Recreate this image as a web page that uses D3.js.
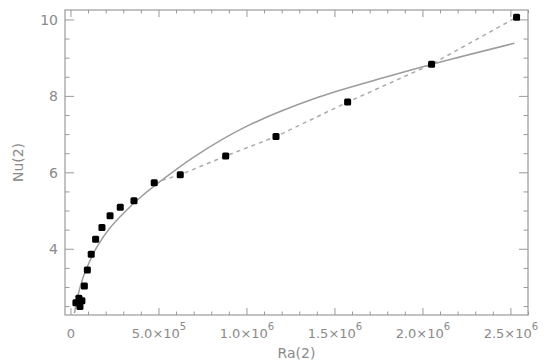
<!DOCTYPE html>
<html>
<head>
<meta charset="utf-8">
<script src="https://cdn.jsdelivr.net/npm/d3@7"></script>
<style>
  html, body { margin: 0; padding: 0; background: #fff; }
  svg { display: block; }
  text { font-family: "DejaVu Sans", "Liberation Sans", sans-serif; fill: #8a8a8a; }
</style>
</head>
<body>
<svg id="chart" width="550" height="362"></svg>
<script>
// ---- data ----
const raPoints = [28000, 45000, 51000, 62000, 76000, 93000, 115000, 140000, 176000, 222000, 280000, 358000,
                  473000, 621000, 879000, 1165000, 1572000, 2049000, 2532000];
const nuPoints = [2.60, 2.72, 2.50, 2.65, 3.04, 3.46, 3.87, 4.26, 4.57, 4.88, 5.10, 5.27,
                  5.74, 5.95, 6.44, 6.95, 7.85, 8.84, 10.07];
// dashed connecting line starts at this point index
const dashedFrom = 12;
// fitted curve (solid)
const raFit = [20000, 40000, 70000, 100000, 150000, 220000, 300000, 400000, 500000, 700000, 1000000, 1400000, 1800000, 2100000, 2520000];
const nuFit = [2.33, 2.80, 3.28, 3.62, 4.08, 4.55, 4.95, 5.38, 5.75, 6.42, 7.22, 7.97, 8.52, 8.90, 9.39];
// axis ticks
const xMajorTicks = [0, 500000, 1000000, 1500000, 2000000, 2500000];
const xTickMantissa = ["0", "5.0×10", "1.0×10", "1.5×10", "2.0×10", "2.5×10"];
const xTickExponent = ["", "5", "6", "6", "6", "6"];
const yMajorTicks = [4, 6, 8, 10];
const xLabel = "Ra(2)";
const yLabel = "Nu(2)";

// ---- layout ----
const svg = d3.select("#chart");
const L = 65, R = 528, T = 10, B = 315;
const x = d3.scaleLinear().domain([-34000, 2597000]).range([L, R]);
const y = d3.scaleLinear().domain([2.28, 10.26]).range([B, T]);
const axisColor = "#9a9a9a";

// frame
svg.append("rect").attr("x", L).attr("y", T).attr("width", R - L).attr("height", B - T)
  .attr("fill", "none").attr("stroke", axisColor).attr("stroke-width", 1.2);

// ticks (major + minor) on all four sides
const xMinor = d3.range(0, 2600001, 100000);
const yMinor = d3.range(2.5, 10.26, 0.5);
const tickG = svg.append("g").attr("stroke", axisColor).attr("stroke-width", 1);
xMinor.forEach(v => {
  const major = xMajorTicks.includes(v);
  const len = major ? 7 : 3.5;
  tickG.append("line").attr("x1", x(v)).attr("x2", x(v)).attr("y1", B).attr("y2", B - len);
  tickG.append("line").attr("x1", x(v)).attr("x2", x(v)).attr("y1", T).attr("y2", T + len);
});
yMinor.forEach(v => {
  const major = yMajorTicks.includes(Math.round(v * 10) / 10);
  const len = major ? 9 : 4.5;
  tickG.append("line").attr("x1", L).attr("x2", L + len).attr("y1", y(v)).attr("y2", y(v));
  tickG.append("line").attr("x1", R).attr("x2", R - len).attr("y1", y(v)).attr("y2", y(v));
});

// y tick labels
yMajorTicks.forEach(v => {
  svg.append("text").attr("x", L - 7).attr("y", y(v) + 5)
    .attr("text-anchor", "end").attr("font-size", 14).text(v);
});
// x tick labels with superscript exponent
xMajorTicks.forEach((v, i) => {
  const t = svg.append("text").attr("x", x(v)).attr("y", 338)
    .attr("text-anchor", "middle").attr("font-size", 13);
  t.append("tspan").text(xTickMantissa[i]);
  if (xTickExponent[i]) {
    t.append("tspan").attr("dy", -8).attr("font-size", 10).text(xTickExponent[i]);
  }
});

// axis titles
svg.append("text").attr("x", (L + R) / 2).attr("y", 358)
  .attr("text-anchor", "middle").attr("font-size", 14).text(xLabel);
svg.append("text").attr("transform", `translate(23,${(T + B) / 2}) rotate(-90)`)
  .attr("text-anchor", "middle").attr("font-size", 14).text(yLabel);

// fitted solid curve
const fitData = raFit.map((r, i) => [r, nuFit[i]]);
svg.append("path").datum(fitData)
  .attr("fill", "none").attr("stroke", "#9c9c9c").attr("stroke-width", 1.5)
  .attr("d", d3.line().x(d => x(d[0])).y(d => y(d[1])).curve(d3.curveCatmullRom));

// dashed connecting line
const pts = raPoints.map((r, i) => [r, nuPoints[i]]);
svg.append("path").datum(pts.slice(dashedFrom))
  .attr("fill", "none").attr("stroke", "#aaaaaa").attr("stroke-width", 1.5)
  .attr("stroke-dasharray", "4,4")
  .attr("d", d3.line().x(d => x(d[0])).y(d => y(d[1])));

// markers
svg.append("g").selectAll("rect").data(pts).join("rect")
  .attr("x", d => x(d[0]) - 3.5).attr("y", d => y(d[1]) - 3.5)
  .attr("width", 7).attr("height", 7).attr("rx", 1.5)
  .attr("fill", "#000");
</script>
</body>
</html>
